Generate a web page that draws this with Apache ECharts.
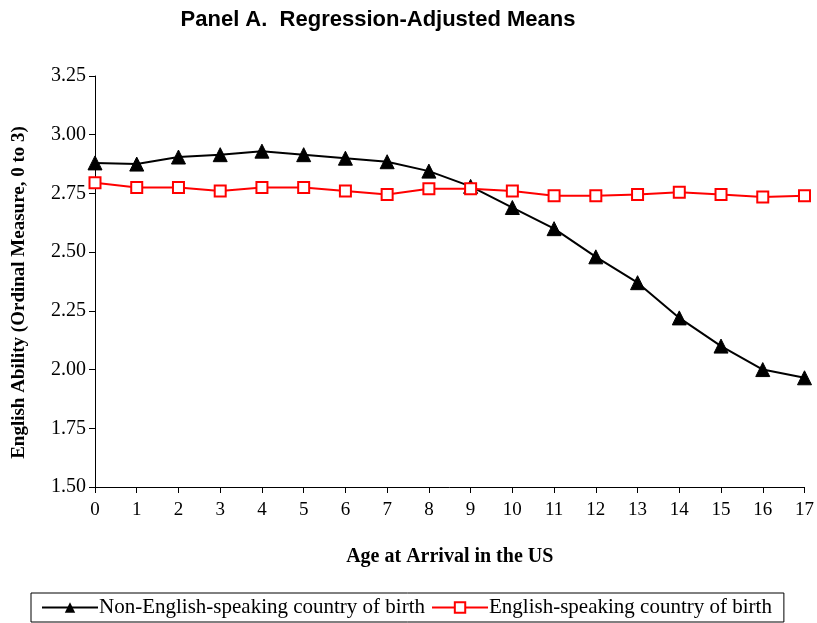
<!DOCTYPE html>
<html>
<head>
<meta charset="utf-8">
<script src="https://cdn.jsdelivr.net/npm/echarts@6/dist/echarts.min.js"></script>
<style>
  html, body { margin: 0; padding: 0; background: #fff; }
  #chart { width: 817px; height: 623px; }
</style>
</head>
<body>
<div id="chart"></div>
<script>
var edades = ["0", "1", "2", "3", "4", "5", "6", "7", "8", "9", "10", "11", "12", "13", "14", "15", "16", "17"];
var noIngles = [2.88, 2.875, 2.905, 2.915, 2.93, 2.915, 2.90, 2.885, 2.845, 2.78, 2.69, 2.60, 2.48, 2.37, 2.22, 2.10, 2.00, 1.965];
var ingles = [2.795, 2.775, 2.775, 2.76, 2.775, 2.775, 2.76, 2.745, 2.77, 2.77, 2.76, 2.74, 2.74, 2.745, 2.755, 2.745, 2.735, 2.74];

var serif = "Liberation Serif";

var chart = echarts.init(document.getElementById("chart"));
var option = {
  animation: false,
  backgroundColor: "#fff",
  title: {
    text: "Panel A.  Regression-Adjusted Means",
    left: 373,
    textAlign: "center",
    top: 4,
    textStyle: { fontFamily: "Liberation Sans", fontWeight: "bold", fontSize: 22, color: "#000" }
  },
  grid: { left: 95, right: 12, top: 76, bottom: 136 },
  legend: {
    left: 31,
    top: 593,
    width: 770,
    borderColor: "#000",
    borderWidth: 1,
    borderRadius: 0,
    padding: [4, 12, 4, 10],
    itemGap: 6,
    itemWidth: 56,
    itemHeight: 13,
    textStyle: { fontFamily: serif, fontSize: 21, color: "#000", padding: [0, 0, 0, -4] },
    data: ["Non-English-speaking country of birth", "English-speaking country of birth"]
  },
  xAxis: {
    type: "category",
    data: edades,
    boundaryGap: false,
    name: "Age at Arrival in the US",
    nameLocation: "middle",
    nameGap: 60,
    nameTextStyle: { fontFamily: serif, fontWeight: "bold", fontSize: 20, color: "#000" },
    axisLine: { lineStyle: { color: "#000", width: 1 } },
    axisTick: { alignWithLabel: true, length: 6, lineStyle: { color: "#000" } },
    axisLabel: { fontFamily: serif, fontSize: 19, color: "#000", margin: 14 },
    splitLine: { show: false }
  },
  yAxis: {
    type: "value",
    min: 1.5,
    max: 3.25,
    interval: 0.25,
    name: "English Ability (Ordinal Measure, 0 to 3)",
    nameLocation: "middle",
    nameGap: 66,
    nameTextStyle: { fontFamily: serif, fontWeight: "bold", fontSize: 19, color: "#000", padding: [0, 22, 0, 0] },
    axisLine: { show: true, lineStyle: { color: "#000", width: 1 } },
    axisTick: { show: true, inside: false, length: 6, lineStyle: { color: "#000" } },
    axisLabel: {
      fontFamily: serif, fontSize: 20, color: "#000", margin: 9,
      formatter: function (v) { return v.toFixed(2); }
    },
    splitLine: { show: false }
  },
  series: [
    {
      name: "Non-English-speaking country of birth",
      type: "line",
      data: noIngles,
      symbol: "triangle",
      symbolSize: 14,
      lineStyle: { color: "#000", width: 2 },
      itemStyle: { color: "#000", borderColor: "#000" }
    },
    {
      name: "English-speaking country of birth",
      type: "line",
      data: ingles,
      symbol: "rect",
      symbolSize: 11,
      lineStyle: { color: "#ff0000", width: 2 },
      itemStyle: { color: "#fff", borderColor: "#ff0000", borderWidth: 2 }
    }
  ]
};
chart.setOption(option);
</script>
</body>
</html>
